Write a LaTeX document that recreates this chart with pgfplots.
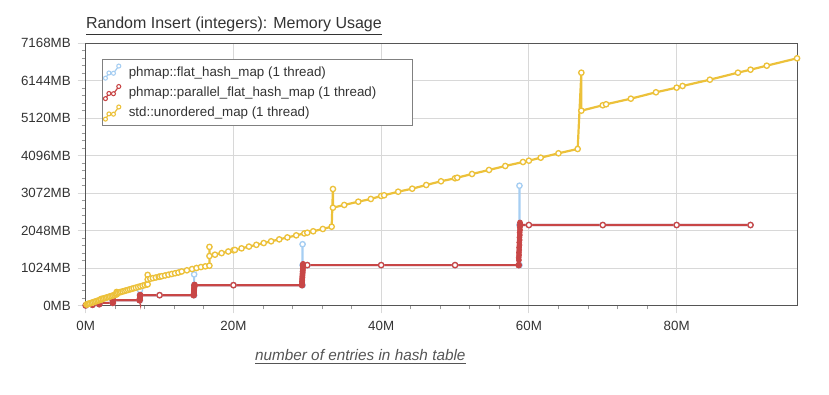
\documentclass[border=0pt]{standalone}
\usepackage{pgfplots}
\usepackage{pgfplotstable}
\pgfplotsset{compat=1.18}
\usepackage{fontspec}
\setmainfont{Liberation Sans}
\definecolor{cblue}{RGB}{166,206,242}
\definecolor{cred}{RGB}{200,70,70}
\definecolor{cyel}{RGB}{236,193,58}
\definecolor{gridc}{RGB}{216,216,216}
\definecolor{axc}{RGB}{85,85,85}
\definecolor{txt}{RGB}{51,51,51}

\pgfplotstableread{
x y
0 2
0.92 19
0.92 55
0.92 36
1.835 36
1.835 108
1.835 72
3.67 72
3.67 216
3.67 145
7.34 145
7.34 424
7.34 282
10 282
14.68 282
14.68 850
14.68 556
20 556
29.36 556
29.36 1675
29.36 1104
30 1104
40 1104
50 1104
58.72 1104
58.72 3275
58.72 2200
60 2200
70 2200
80 2200
90 2200
}\flatdata

\pgfplotstableread{
x y
0 2
0.92 19
0.92 36
1.835 36
1.835 72
3.67 72
3.67 145
7.30 145
7.38 282
10 282
14.62 282
14.74 556
20 556
29.28 556
29.44 1104
30 1104
40 1104
50 1104
58.62 1104
58.82 2200
60 2200
70 2200
80 2200
90 2200
}\pardata

\pgfplotstableread{
x y
1.83 36
1.835 60
1.84 81
1.845 72
nan nan
3.66 72
3.665 120
3.67 163
3.68 145
nan nan
7.30 145
7.30 171
7.31 162
7.31 188
7.32 179
7.32 205
7.33 196
7.33 222
7.34 213
7.34 239
7.35 231
7.35 256
7.36 248
7.36 273
7.37 265
7.37 291
7.38 282
nan nan
14.62 282
14.62 333
14.635 316
14.635 368
14.65 351
14.65 402
14.665 385
14.665 436
14.68 419
14.68 470
14.695 453
14.695 505
14.71 488
14.71 539
14.725 522
14.725 573
14.74 556
nan nan
29.28 556
29.28 659
29.30 624
29.30 727
29.32 693
29.32 796
29.34 761
29.34 864
29.36 830
29.36 933
29.38 898
29.38 1001
29.40 967
29.40 1070
29.42 1035
29.42 1138
29.44 1104
nan nan
58.62 1104
58.62 1310
58.645 1241
58.645 1447
58.67 1378
58.67 1584
58.695 1515
58.695 1721
58.72 1652
58.72 1858
58.745 1789
58.745 1995
58.77 1926
58.77 2132
58.795 2063
58.795 2269
58.82 2200
}\parblob

\pgfplotstableread{
x y
0.1 27
0.2 34
0.3 40
0.45 51
0.6 61
0.8 74
1.0 88
1.2 102
1.4 115
1.6 129
1.8 142
2.0 156
2.1 163
2.1 179
2.1 171
2.3 184
2.5 197
2.7 209
2.9 222
3.1 235
3.3 248
3.5 261
3.7 273
3.9 286
4.1 299
4.19 305
4.19 369
4.19 337
4.4 349
4.6 361
4.8 372
5.0 384
5.25 398
5.5 413
5.75 427
6.0 442
6.25 456
6.5 471
6.8 488
7.1 506
7.4 523
7.7 540
8.0 558
8.3 575
8.39 580
8.39 836
8.39 712
8.75 732
9.1 748
9.5 765
9.9 784
10.0 788
10.3 801
10.75 821
11.2 841
11.65 861
12.1 881
12.55 901
13.0 930
13.7 962
14.4 996
15.0 1025
15.6 1050
16.2 1070
16.75 1088
16.75 1602
16.75 1353
17.5 1389
18.4 1432
19.3 1476
20.0 1510
20.2 1519
21.1 1562
22.1 1610
23.1 1658
24.1 1707
25.1 1755
26.2 1808
27.3 1861
28.5 1918
29.6 1971
30.0 1990
30.8 2029
32.1 2092
33.3 2154
33.47 3185
33.47 2674
35.0 2748
36.9 2838
38.6 2912
40.0 2994
40.4 3013
42.3 3111
44.2 3193
46.1 3294
48.1 3396
50.0 3478
50.3 3494
52.3 3595
54.6 3705
56.8 3814
59.2 3923
60.0 3959
61.6 4041
64.0 4161
66.6 4279
67.1 6365
67.1 5326
70.0 5474
70.45 5501
73.8 5654
77.2 5829
80.0 5955
80.8 6001
84.5 6173
88.3 6365
90.0 6447
92.2 6556
96.3 6758
}\stddata

\begin{document}
\begin{tikzpicture}[x=1pt,y=1pt]
\path[use as bounding box] (0,0) rectangle (621.75,295.5);
\node[anchor=base west, font=\fontsize{12}{14}\selectfont, text=txt, inner sep=0pt] at (64.3,274) {\underline{Random Insert (integers): Memory Usage}};
\begin{axis}[
  at={(64.28pt,66.38pt)}, anchor=south west, scale only axis,
  width=533.5pt, height=196.65pt,
  xmin=0, xmax=96.3, ymin=0, ymax=7168,
  xtick={0,20,40,60,80}, xticklabels={0M,20M,40M,60M,80M},
  ytick={0,1024,2048,3072,4096,5120,6144,7168},
  yticklabels={0MB,1024MB,2048MB,3072MB,4096MB,5120MB,6144MB,7168MB},
  minor x tick num=4, minor y tick num=4,
  tick pos=left, tick align=outside,
  major tick length=6pt, minor tick length=3pt,
  major tick style={gridc, line width=0.75pt},
  minor tick style={gray!80, line width=0.6pt},
  xmajorgrids, ymajorgrids, major grid style={gridc, line width=0.75pt},
  axis line style={axc, line width=0.75pt},
  tick label style={font=\fontsize{10}{12}\selectfont, text=txt},
  yticklabel style={xshift=-1.7pt},
  xticklabel style={yshift=-2pt},
  xlabel={\underline{\textit{number of entries in hash table}}},
  xlabel style={font=\fontsize{11.5}{13}\selectfont, text=axc, at={(axis description cs:0.386,0)}, anchor=center, yshift=-38.4pt},
  legend style={at={(axis description cs:0.0225,0.939)}, anchor=north west, draw=gray, line width=0.6pt, font=\fontsize{10}{12}\selectfont, text=txt, row sep=2.6pt, inner xsep=1pt, inner ysep=3pt, /tikz/every odd column/.append style={column sep=4pt}},
  legend cell align=left,
  legend image code/.code={\draw[#1, line width=0.9pt, mark size=1.5pt, mark options={fill=white, line width=0.8pt, solid}] plot coordinates {(0pt,-4.5pt) (2.6pt,-0.6pt) (6pt,-0.8pt) (10pt,4.6pt)};},
  clip=false, unbounded coords=jump,
  every axis plot/.append style={line width=1.65pt, mark=*, mark size=2pt, mark options={fill=white, line width=1pt, solid}},
]
\addplot[cblue] table[x=x,y=y] {\flatdata};
\addlegendentry{phmap::flat\_hash\_map (1 thread)}
\addplot[cred] table[x=x,y=y] {\pardata};
\addlegendentry{phmap::parallel\_flat\_hash\_map (1 thread)\hspace*{24pt}}
\addplot[cred, forget plot, mark size=1.9pt, mark options={fill=cred, draw=cred, line width=0.5pt}] table[x=x,y=y] {\parblob};
\addplot[cyel] table[x=x,y=y] {\stddata};
\addlegendentry{std::unordered\_map (1 thread)}
\end{axis}
\end{tikzpicture}
\end{document}
